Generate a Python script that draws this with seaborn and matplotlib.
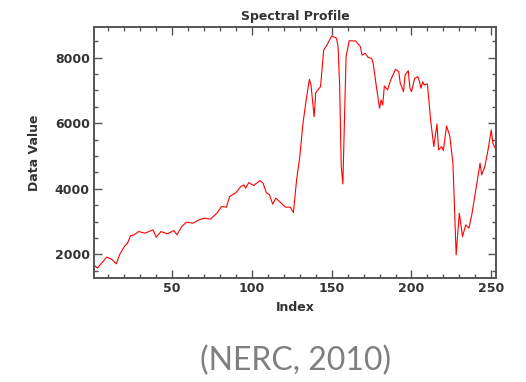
import matplotlib
matplotlib.use("Agg")
import matplotlib.pyplot as plt
from matplotlib.ticker import MultipleLocator
import seaborn as sns
import pandas as pd

# ---- data ----
index = [1, 3, 4, 9, 12, 15, 17, 20, 22, 24, 26, 29, 33, 38, 40, 43, 47, 51, 53, 56,
         59, 63, 67, 70, 74, 78, 81, 84, 86, 90, 93, 95, 96, 98, 101, 105, 107, 109,
         111, 113, 115, 118, 121, 124, 126, 128, 130, 132, 134, 136, 137, 139, 140,
         143, 145, 147, 150, 153, 154, 155, 156, 157, 158, 159, 161, 165, 168, 169,
         171, 173, 175, 176, 178, 180, 181, 182, 183, 185, 187, 190, 192, 193, 195,
         196, 198, 199, 200, 202, 204, 205, 206, 207, 208, 210, 212, 214, 216, 217,
         219, 220, 222, 224, 226, 228, 230, 232, 234, 236, 238, 241, 243, 244, 246,
         248, 250, 251, 253]
data_value = [1679, 1579, 1628, 1914, 1853, 1710, 1985, 2238, 2341, 2573, 2594, 2695,
              2646, 2747, 2524, 2695, 2625, 2725, 2594, 2847, 2981, 2951, 3052, 3103,
              3073, 3256, 3457, 3439, 3762, 3884, 4067, 4119, 4018, 4189, 4098, 4250,
              4170, 3884, 3814, 3530, 3713, 3579, 3439, 3439, 3274, 4271, 4981, 6000,
              6710, 7341, 7168, 6201, 6933, 7116, 8235, 8387, 8662, 8591, 8335, 7116,
              4677, 4149, 6100, 8030, 8518, 8509, 8335, 8082, 8134, 8000, 7981, 7829,
              7116, 6457, 6710, 6558, 7137, 7015, 7320, 7646, 7573, 7219, 6964, 7473,
              7604, 7067, 6964, 7372, 7421, 7268, 7067, 7268, 7168, 7198, 6100, 5286,
              5978, 5186, 5286, 5164, 5918, 5613, 4780, 1985, 3256, 2542, 2899, 2798,
              3256, 4171, 4780, 4424, 4677, 5186, 5796, 5390, 5186]
x_ticks = [50, 100, 150, 200, 250]
y_ticks = [2000, 4000, 6000, 8000]
title = "Spectral Profile"
x_label = "Index"
y_label = "Data Value"
source = "(NERC, 2010)"

df = pd.DataFrame({"Index": index, "Data Value": data_value})

sns.set_style("ticks")
plt.rcParams["font.family"] = ["DejaVu Sans"]

fig = plt.figure(figsize=(5.26, 3.82), dpi=100)
ax = fig.add_axes([0.1787, 0.2723, 0.7643, 0.657])

sns.lineplot(data=df, x="Index", y="Data Value", ax=ax, color="#ff0000", lw=0.8)

ax.set_xlim(1, 253)
ax.set_ylim(1278, 8936)
ax.set_xticks(x_ticks)
ax.set_yticks(y_ticks)
ax.xaxis.set_minor_locator(MultipleLocator(10))
ax.yaxis.set_minor_locator(MultipleLocator(500))

spine_col = "#555555"
for s in ax.spines.values():
    s.set_visible(True)
    s.set_color(spine_col)
    s.set_linewidth(1.4)

ax.tick_params(which="both", direction="in", top=True, right=True,
               color=spine_col, width=1.0)
ax.tick_params(which="major", length=6, labelsize=9, labelcolor="#333333", pad=3)
ax.tick_params(which="minor", length=3)
for lab in ax.get_xticklabels() + ax.get_yticklabels():
    lab.set_fontweight("bold")

ax.set_xlabel(x_label, fontsize=9, fontweight="bold", color="#333333", labelpad=4)
ax.set_ylabel(y_label, fontsize=9, fontweight="bold", color="#333333", labelpad=10)
ax.set_title(title, fontsize=9, fontweight="bold", color="#333333", pad=5)

fig.text(0.561, 0.055, source, ha="center", va="center", fontsize=23,
         color="#7f7f7f", family=["Lato", "DejaVu Sans"])

fig.savefig("out.png", dpi=100)
